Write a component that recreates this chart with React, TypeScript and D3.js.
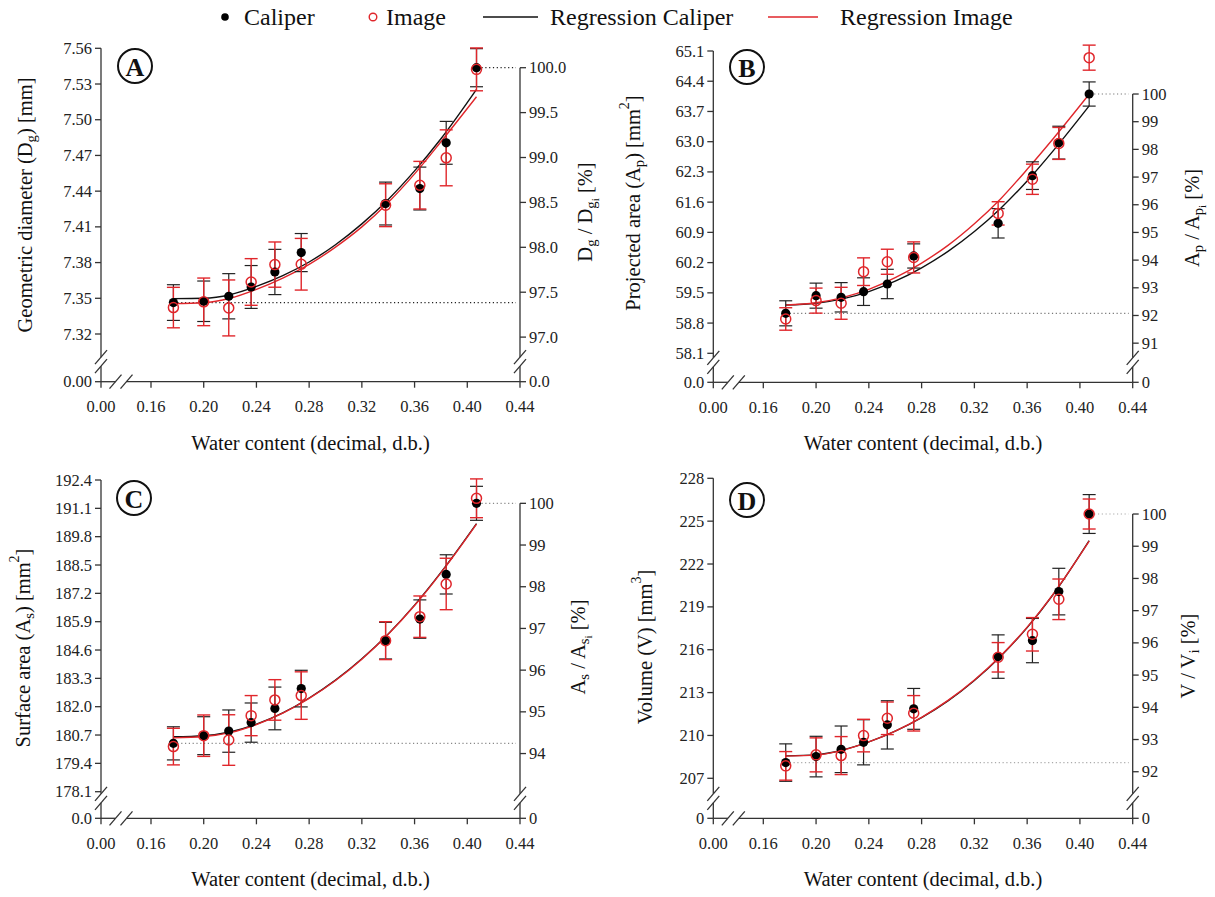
import React from "react";
import * as d3 from "d3";

// ---------------- DATA ----------------
const waterContent = [0.177, 0.2, 0.219, 0.236, 0.254, 0.274, 0.338, 0.364, 0.384, 0.407];
const xTicks = [0.16, 0.2, 0.24, 0.28, 0.32, 0.36, 0.4, 0.44];
const regressionX = [0.177, 0.2, 0.22, 0.24, 0.26, 0.28, 0.3, 0.32, 0.34, 0.36, 0.38, 0.407];

// A - geometric diameter
const dgCaliper = [7.3464, 7.3475, 7.3517, 7.3595, 7.3721, 7.3884, 7.4296, 7.4422, 7.4806, 7.5437];
const dgCaliperSd = [0.015, 0.017, 0.019, 0.018, 0.019, 0.016, 0.018, 0.018, 0.018, 0.016];
const dgImage = [7.3422, 7.347, 7.3419, 7.3637, 7.3783, 7.3786, 7.4282, 7.445, 7.468, 7.5423];
const dgImageSd = [0.017, 0.02, 0.0235, 0.0196, 0.019, 0.0217, 0.018, 0.02, 0.0235, 0.018];
const dgRegCaliper = [7.3497, 7.35, 7.353, 7.36, 7.369, 7.3805, 7.395, 7.4125, 7.433, 7.457, 7.484, 7.5255];
const dgRegImage = [7.3455, 7.3462, 7.35, 7.3575, 7.367, 7.3785, 7.393, 7.41, 7.4305, 7.4545, 7.4815, 7.5193];
const dgTicks = [7.32, 7.35, 7.38, 7.41, 7.44, 7.47, 7.5, 7.53, 7.56];
const dgPctTicks = [97, 97.5, 98, 98.5, 99, 99.5, 100];

// B - projected area
const apCaliper = [59.026, 59.435, 59.397, 59.528, 59.705, 60.354, 61.11, 62.214, 62.978, 64.104];
const apCaliperSd = [0.29, 0.29, 0.34, 0.32, 0.34, 0.28, 0.34, 0.32, 0.38, 0.28];
const apImage = [58.895, 59.32, 59.258, 59.99, 60.22, 60.32, 61.34, 62.13, 62.96, 64.946];
const apImageSd = [0.26, 0.29, 0.37, 0.32, 0.29, 0.36, 0.27, 0.35, 0.37, 0.29];
const apRegCaliper = [59.22, 59.26, 59.36, 59.53, 59.77, 60.08, 60.46, 60.92, 61.46, 62.09, 62.8, 63.83];
const apRegImage = [59.22, 59.27, 59.39, 59.58, 59.85, 60.19, 60.6, 61.1, 61.68, 62.36, 63.08, 64.1];
const apTicks = [58.1, 58.8, 59.5, 60.2, 60.9, 61.6, 62.3, 63.0, 63.7, 64.4, 65.1];
const apPctTicks = [91, 92, 93, 94, 95, 96, 97, 98, 99, 100];

// C - surface area
const asCaliper = [180.318, 180.67, 180.88, 181.27, 181.92, 182.83, 185.03, 186.02, 188.07, 191.33];
const asCaliperSd = [0.76, 0.87, 0.97, 0.9, 0.98, 0.84, 0.84, 0.88, 0.9, 0.78];
const asImage = [180.17, 180.67, 180.47, 181.59, 182.31, 182.51, 185.03, 186.13, 187.63, 191.56];
const asImageSd = [0.84, 0.95, 1.16, 0.92, 0.93, 1.09, 0.87, 0.95, 1.18, 0.89];
const asRegCaliper = [180.62, 180.67, 180.84, 181.2, 181.72, 182.4, 183.22, 184.2, 185.34, 186.66, 188.16, 190.4];
const asRegImage = [180.57, 180.63, 180.81, 181.18, 181.7, 182.38, 183.2, 184.18, 185.32, 186.64, 188.14, 190.38];
const asTicks = [178.1, 179.4, 180.7, 182.0, 183.3, 184.6, 185.9, 187.2, 188.5, 189.8, 191.1, 192.4];
const asPctTicks = [94, 95, 96, 97, 98, 99, 100];

// D - volume
const vCaliper = [208.1, 208.52, 209.03, 209.52, 210.74, 211.86, 215.52, 216.64, 220.07, 225.5];
const vCaliperSd = [1.31, 1.42, 1.63, 1.58, 1.69, 1.43, 1.52, 1.55, 1.63, 1.36];
const vImage = [207.87, 208.64, 208.59, 209.99, 211.2, 211.55, 215.47, 217.08, 219.53, 225.5];
const vImageSd = [1.0, 1.19, 1.33, 1.14, 1.14, 1.24, 1.03, 1.17, 1.42, 1.05];
const vRegCaliper = [208.57, 208.64, 208.98, 209.55, 210.3, 211.25, 212.42, 213.85, 215.55, 217.55, 219.9, 223.64];
const vRegImage = [208.55, 208.62, 208.97, 209.55, 210.31, 211.27, 212.45, 213.88, 215.58, 217.58, 219.93, 223.6];
const vTicks = [207, 210, 213, 216, 219, 222, 225, 228];
const vPctTicks = [92, 93, 94, 95, 96, 97, 98, 99, 100];

const legendLabels = ["Caliper", "Image", "Regression Caliper", "Regression Image"];
const xTitle = "Water content (decimal, d.b.)";

// ---------------- STYLE / LAYOUT ----------------
const FONT = "'Liberation Serif', 'Times New Roman', Times, serif";
const RED = "#e0262b";
const BLACK = "#111";
const AXIS = "#333";
const TICK_FS = 16.5;
const TITLE_FS = 20.5;

type Part = { t: string; lv?: number };

const panels = [
  {
    letter: "A",
    caliper: dgCaliper, caliperSd: dgCaliperSd, image: dgImage, imageSd: dgImageSd,
    regC: dgRegCaliper, regI: dgRegImage,
    ticks: dgTicks, fmt: ".2f", zero: "0.00", pctTicks: dgPctTicks, pctFmt: ".1f", pctZero: "0.0",
    leftTitle: [{ t: "Geometric diameter (D" }, { t: "g", lv: 1 }, { t: ") [mm]" }] as Part[],
    rightTitle: [{ t: "D" }, { t: "g", lv: 1 }, { t: " / D" }, { t: "g", lv: 1 }, { t: "i", lv: 2 }, { t: " [%]" }] as Part[],
    layout: { left: 101, right: 520, yTop: 48.3, yBottom: 334, xAxisY: 381.7, ltx: 25, lty: 205, rtx: 585, rty: 212, cx: 135, cy: 66, dotColor: "#222" },
  },
  {
    letter: "B",
    caliper: apCaliper, caliperSd: apCaliperSd, image: apImage, imageSd: apImageSd,
    regC: apRegCaliper, regI: apRegImage,
    ticks: apTicks, fmt: ".1f", zero: "0.0", pctTicks: apPctTicks, pctFmt: "d", pctZero: "0",
    leftTitle: [{ t: "Projected area (A" }, { t: "p", lv: 1 }, { t: ") [mm" }, { t: "2", lv: -1 }, { t: "]" }] as Part[],
    rightTitle: [{ t: "A" }, { t: "p", lv: 1 }, { t: " / A" }, { t: "p", lv: 1 }, { t: "i", lv: 2 }, { t: " [%]" }] as Part[],
    layout: { left: 713.3, right: 1132.7, yTop: 51, yBottom: 353.3, xAxisY: 382.3, ltx: 633, lty: 203, rtx: 1192, rty: 218, cx: 747, cy: 67, dotColor: "#777" },
  },
  {
    letter: "C",
    caliper: asCaliper, caliperSd: asCaliperSd, image: asImage, imageSd: asImageSd,
    regC: asRegCaliper, regI: asRegImage,
    ticks: asTicks, fmt: ".1f", zero: "0.0", pctTicks: asPctTicks, pctFmt: "d", pctZero: "0",
    leftTitle: [{ t: "Surface area (A" }, { t: "s", lv: 1 }, { t: ") [mm" }, { t: "2", lv: -1 }, { t: "]" }] as Part[],
    rightTitle: [{ t: "A" }, { t: "s", lv: 1 }, { t: " / A" }, { t: "s", lv: 1 }, { t: "i", lv: 2 }, { t: " [%]" }] as Part[],
    layout: { left: 101, right: 520, yTop: 480, yBottom: 791.7, xAxisY: 818.3, ltx: 23, lty: 648, rtx: 578, rty: 647, cx: 134, cy: 498, dotColor: "#888" },
  },
  {
    letter: "D",
    caliper: vCaliper, caliperSd: vCaliperSd, image: vImage, imageSd: vImageSd,
    regC: vRegCaliper, regI: vRegImage,
    ticks: vTicks, fmt: "d", zero: "0", pctTicks: vPctTicks, pctFmt: "d", pctZero: "0",
    leftTitle: [{ t: "Volume (V) [mm" }, { t: "3", lv: -1 }, { t: "]" }] as Part[],
    rightTitle: [{ t: "V / V" }, { t: "i", lv: 1 }, { t: " [%]" }] as Part[],
    layout: { left: 713.3, right: 1132.7, yTop: 478.3, yBottom: 778.3, xAxisY: 818.3, ltx: 645, lty: 647, rtx: 1188, rty: 656, cx: 747, cy: 500, dotColor: "#aaa" },
  },
];

function RichText({ parts, x, y, fs, rotate }: { parts: Part[]; x: number; y: number; fs: number; rotate?: boolean }) {
  const off = (lv: number) => (lv === 1 ? 0.3 * fs : lv === 2 ? 0.5 * fs : lv === -1 ? -0.42 * fs : 0);
  const size = (lv: number) => (lv === 1 ? 0.72 * fs : lv === 2 ? 0.55 * fs : lv === -1 ? 0.68 * fs : fs);
  let prev = 0;
  return (
    <text
      x={x}
      y={y}
      fontFamily={FONT}
      fontSize={fs}
      fill="#111"
      textAnchor="middle"
      dominantBaseline="central"
      transform={rotate ? `rotate(-90 ${x} ${y})` : undefined}
    >
      {parts.map((p, i) => {
        const lv = p.lv || 0;
        const dy = off(lv) - off(prev);
        prev = lv;
        return (
          <tspan key={i} dy={dy} fontSize={size(lv)}>
            {p.t}
          </tspan>
        );
      })}
    </text>
  );
}

function ErrorBars({ xs, ys, sd, x, y, color, w }: any) {
  return (
    <g stroke={color} strokeWidth={w} fill="none">
      {xs.map((xv: number, i: number) => {
        const px = x(xv);
        const y1 = y(ys[i] + sd[i]);
        const y2 = y(ys[i] - sd[i]);
        return (
          <g key={i}>
            <line x1={px} x2={px} y1={y1} y2={y2} />
            <line x1={px - 6.5} x2={px + 6.5} y1={y1} y2={y1} />
            <line x1={px - 6.5} x2={px + 6.5} y1={y2} y2={y2} />
          </g>
        );
      })}
    </g>
  );
}

function Panel({ cfg }: { cfg: (typeof panels)[number] }) {
  const L = cfg.layout;
  const { left, right, xAxisY } = L;
  const x = d3.scaleLinear().domain([0.16, 0.44]).range([left + 50, right]);
  const y = d3
    .scaleLinear()
    .domain([cfg.ticks[0], cfg.ticks[cfg.ticks.length - 1]])
    .range([L.yBottom, L.yTop]);
  const ref = cfg.caliper[cfg.caliper.length - 1];
  const yPct = (p: number) => y((p / 100) * ref);
  const fmt = d3.format(cfg.fmt);
  const pctFmt = d3.format(cfg.pctFmt);
  const line = d3
    .line<number>()
    .x((_, i) => x(regressionX[i]))
    .y((d) => y(d))
    .curve(d3.curveMonotoneX);

  const yBreak = xAxisY - 20;
  const xBreak = left + 20;
  const gap = 4.5;
  const n = waterContent.length;
  const slash = (cx: number, cy: number, key: string) => (
    <line key={key} x1={cx - 6} y1={cy + 7} x2={cx + 6} y2={cy - 7} stroke={AXIS} strokeWidth={1.3} />
  );
  const rightTop = yPct(100);

  return (
    <g>
      {/* reference dotted lines */}
      <g stroke={L.dotColor} strokeWidth={1.2} strokeDasharray="1.2,2.6">
        <line x1={x(waterContent[0]) + 4} x2={right - 4} y1={y(cfg.caliper[0])} y2={y(cfg.caliper[0])} />
        <line x1={x(waterContent[n - 1]) + 5} x2={right - 4} y1={y(cfg.caliper[n - 1])} y2={y(cfg.caliper[n - 1])} />
      </g>

      {/* axes */}
      <g stroke={AXIS} strokeWidth={1.3} fill="none">
        <line x1={left} x2={left} y1={L.yTop} y2={yBreak - gap} />
        <line x1={left} x2={left} y1={yBreak + gap} y2={xAxisY} />
        <line x1={right} x2={right} y1={rightTop} y2={yBreak - gap} />
        <line x1={right} x2={right} y1={yBreak + gap} y2={xAxisY} />
        <line x1={left} x2={xBreak - gap - 1} y1={xAxisY} y2={xAxisY} />
        <line x1={xBreak + gap + 1} x2={right} y1={xAxisY} y2={xAxisY} />
        {slash(left, yBreak - gap, "l1")}
        {slash(left, yBreak + gap, "l2")}
        {slash(right, yBreak - gap, "r1")}
        {slash(right, yBreak + gap, "r2")}
        {slash(xBreak - gap - 1, xAxisY, "x1")}
        {slash(xBreak + gap + 1, xAxisY, "x2")}
        {/* left ticks */}
        {cfg.ticks.map((t) => (
          <line key={"lt" + t} x1={left - 6} x2={left} y1={y(t)} y2={y(t)} />
        ))}
        <line x1={left - 6} x2={left} y1={xAxisY} y2={xAxisY} />
        {/* right ticks */}
        {cfg.pctTicks.map((t) => (
          <line key={"rt" + t} x1={right} x2={right + 6} y1={yPct(t)} y2={yPct(t)} />
        ))}
        <line x1={right} x2={right + 6} y1={xAxisY} y2={xAxisY} />
        {/* x ticks */}
        <line x1={left} x2={left} y1={xAxisY} y2={xAxisY + 6} />
        {xTicks.map((t) => (
          <line key={"xt" + t} x1={x(t)} x2={x(t)} y1={xAxisY} y2={xAxisY + 6} />
        ))}
      </g>

      {/* tick labels */}
      <g fontFamily={FONT} fontSize={TICK_FS} fill="#222" dominantBaseline="central">
        {cfg.ticks.map((t) => (
          <text key={"ll" + t} x={left - 9} y={y(t)} textAnchor="end">
            {fmt(t)}
          </text>
        ))}
        <text x={left - 9} y={xAxisY} textAnchor="end">
          {cfg.zero}
        </text>
        {cfg.pctTicks.map((t) => (
          <text key={"rl" + t} x={right + 9} y={yPct(t)} textAnchor="start">
            {pctFmt(t)}
          </text>
        ))}
        <text x={right + 9} y={xAxisY} textAnchor="start">
          {cfg.pctZero}
        </text>
        <text x={left} y={xAxisY + 25} textAnchor="middle">
          0.00
        </text>
        {xTicks.map((t) => (
          <text key={"xl" + t} x={x(t)} y={xAxisY + 25} textAnchor="middle">
            {d3.format(".2f")(t)}
          </text>
        ))}
      </g>

      {/* titles */}
      <text
        x={(left + right) / 2}
        y={xAxisY + 61}
        fontFamily={FONT}
        fontSize={TITLE_FS}
        fill="#111"
        textAnchor="middle"
        dominantBaseline="central"
      >
        {xTitle}
      </text>
      <RichText parts={cfg.leftTitle} x={L.ltx} y={L.lty} fs={TITLE_FS} rotate />
      <RichText parts={cfg.rightTitle} x={L.rtx} y={L.rty} fs={TITLE_FS} rotate />

      {/* regression curves */}
      <path d={line(cfg.regC) || ""} fill="none" stroke={BLACK} strokeWidth={1.4} />
      <path d={line(cfg.regI) || ""} fill="none" stroke={RED} strokeWidth={1.4} />

      {/* error bars */}
      <ErrorBars xs={waterContent} ys={cfg.caliper} sd={cfg.caliperSd} x={x} y={y} color="#222" w={1.2} />
      <ErrorBars xs={waterContent} ys={cfg.image} sd={cfg.imageSd} x={x} y={y} color={RED} w={1.4} />

      {/* points */}
      {waterContent.map((xv, i) => (
        <circle key={"c" + i} cx={x(xv)} cy={y(cfg.caliper[i])} r={4.6} fill="#000" />
      ))}
      {waterContent.map((xv, i) => (
        <circle key={"m" + i} cx={x(xv)} cy={y(cfg.image[i])} r={5} fill="none" stroke={RED} strokeWidth={1.5} />
      ))}

      {/* panel letter */}
      <circle cx={L.cx} cy={L.cy} r={17} fill="#fff" stroke="#111" strokeWidth={2} />
      <text
        x={L.cx}
        y={L.cy + 1}
        fontFamily={FONT}
        fontWeight="bold"
        fontSize={26}
        fill="#111"
        textAnchor="middle"
        dominantBaseline="central"
      >
        {cfg.letter}
      </text>
    </g>
  );
}

function Legend() {
  const ly = 17;
  return (
    <g fontFamily={FONT} fontSize={24} fill="#111">
      <circle cx={225} cy={ly} r={3.8} fill="#000" />
      <text x={244} y={ly} dominantBaseline="central">{legendLabels[0]}</text>
      <circle cx={373} cy={ly} r={3.8} fill="none" stroke={RED} strokeWidth={1.4} />
      <text x={386} y={ly} dominantBaseline="central">{legendLabels[1]}</text>
      <line x1={483} x2={538} y1={ly} y2={ly} stroke={BLACK} strokeWidth={1.4} />
      <text x={550} y={ly} dominantBaseline="central">{legendLabels[2]}</text>
      <line x1={768} x2={818} y1={ly} y2={ly} stroke={RED} strokeWidth={1.4} />
      <text x={840} y={ly} dominantBaseline="central">{legendLabels[3]}</text>
    </g>
  );
}

export default function App() {
  return (
    <svg
      width={1215}
      height={897}
      viewBox="0 0 1215 897"
      style={{ position: "absolute", left: 0, top: 0, background: "#fff" }}
    >
      <rect width={1215} height={897} fill="#fff" />
      <Legend />
      {panels.map((p) => (
        <Panel key={p.letter} cfg={p} />
      ))}
    </svg>
  );
}
